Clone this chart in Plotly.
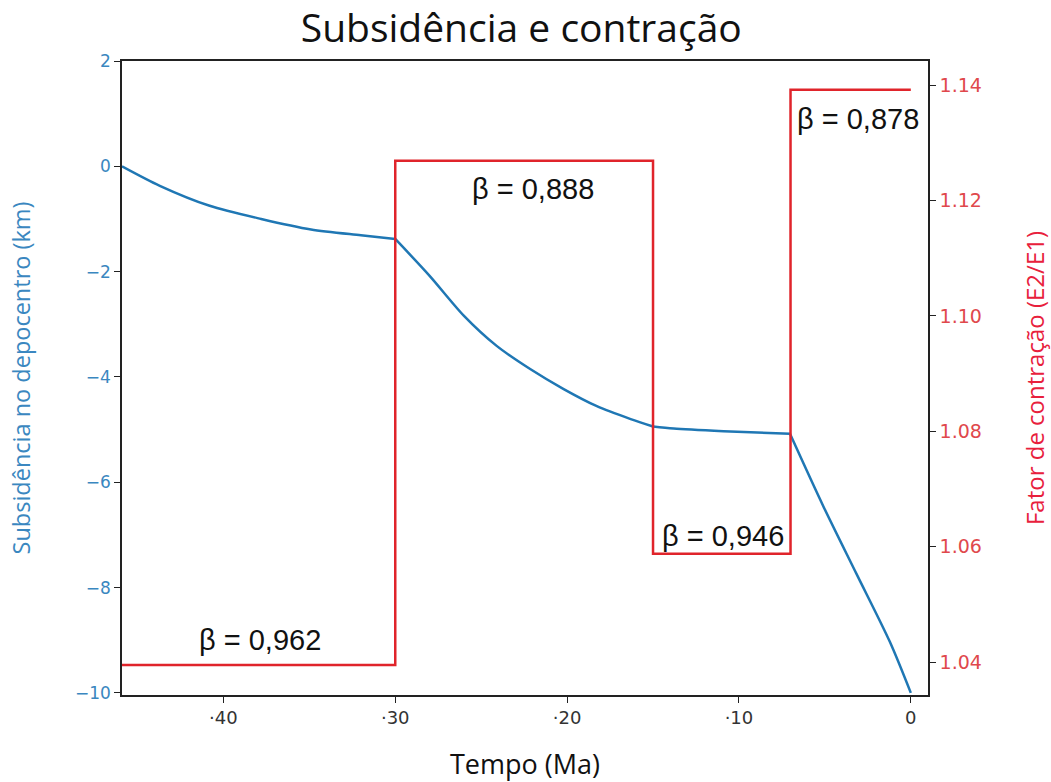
import plotly.graph_objects as go

# Blue subsidence curve (Tempo in Ma, subsidence in km), four phases
sub_t = [-45.9, -43.7, -40.8, -37.8, -34.9, -32.0, -30.0,
         -28.0, -26.0, -24.1, -22.15, -20.2, -18.3, -16.3, -15.0,
         -13.8, -10.9, -7.03,
         -5.1, -3.16, -1.22, 0.0]
sub_km = [0.0, -0.37, -0.75, -1.0, -1.2, -1.31, -1.38,
          -2.08, -2.84, -3.41, -3.85, -4.23, -4.55, -4.8, -4.94,
          -4.98, -5.03, -5.08,
          -6.45, -7.74, -9.03, -10.0]
phase_breaks = [0, 6, 14, 17, 21]  # indices where phases start/end

# Red step: contraction factor (E2/E1)
step_t = [-45.9, -30.0, -15.0, -7.0, 0.0]
step_f = [1.0395, 1.1269, 1.0588, 1.1392, 1.1392]

# Beta labels
beta_text = ["β = 0,962", "β = 0,888", "β = 0,946", "β = 0,878"]
beta_t = [-37.85, -22.0, -10.9, -3.06]
beta_km = [-8.99, -0.44, -7.02, 0.89]

x_ticks = [-40, -30, -20, -10, 0]
x_ticktext = ["·40", "·30", "·20", "·10", "0"]
y_ticks = [-10, -8, -6, -4, -2, 0, 2]
y_ticktext = ["−10", "−8", "−6", "−4", "−2", "0", "2"]
y2_ticks = [1.04, 1.06, 1.08, 1.10, 1.12, 1.14]
y2_ticktext = ["1.04", "1.06", "1.08", "1.10", "1.12", "1.14"]

BLUE = "#1f77b4"
RED = "#e0242b"
TICKFONT = "DejaVu Sans"

fig = go.Figure()
fig.add_trace(go.Scatter(x=step_t, y=step_f, mode="lines", yaxis="y2",
                         line=dict(color=RED, width=2.5, shape="hv"),
                         showlegend=False, hoverinfo="skip"))
for a, b in zip(phase_breaks[:-1], phase_breaks[1:]):
    fig.add_trace(go.Scatter(x=sub_t[a:b + 1], y=sub_km[a:b + 1], mode="lines", yaxis="y",
                             line=dict(color=BLUE, width=2.5, shape="spline", smoothing=0.8),
                             showlegend=False))

for t, xv, yv in zip(beta_text, beta_t, beta_km):
    fig.add_annotation(x=xv, y=yv, xref="x", yref="y", text=t, showarrow=False,
                       font=dict(family="Liberation Sans", size=29, color="#111111"))

fig.update_layout(
    width=1051, height=782,
    margin=dict(l=122, r=123, t=61, b=87, autoexpand=False),
    paper_bgcolor="white", plot_bgcolor="white",
    title=dict(text="Subsidência e contração", x=0.496, xanchor="center",
               y=0.964, yanchor="middle",
               font=dict(family="Open Sans", size=39, color="#111111")),
    xaxis=dict(range=[-45.9, 1.0], tickvals=x_ticks, ticktext=x_ticktext,
               automargin=False,
               showgrid=False, zeroline=False, showline=True, mirror=True,
               linecolor="#222222", linewidth=1.5, ticks="outside", ticklen=6,
               tickcolor="#222222", tickwidth=1.3,
               tickfont=dict(family=TICKFONT, size=18, color="#333333"),
               title=dict(text="Tempo (Ma)", standoff=29,
                          font=dict(family="Open Sans", size=27, color="#111111"))),
    yaxis=dict(range=[-10.04, 2.0], tickvals=y_ticks, ticktext=y_ticktext,
               automargin=False,
               showgrid=False, zeroline=False, showline=True,
               linecolor="#222222", linewidth=1.5, ticks="outside", ticklen=6,
               tickcolor="#222222", tickwidth=1.3,
               tickfont=dict(family=TICKFONT, size=17, color="#3a87c0"),
               title=dict(text="Subsidência no depocentro (km)", standoff=38,
                          font=dict(family="Open Sans", size=23.5, color="#3a87c0"))),
    yaxis2=dict(range=[1.0343, 1.1442], tickvals=y2_ticks, ticktext=y2_ticktext,
                overlaying="y", side="right", automargin=False,
                showgrid=False, zeroline=False, showline=True,
                linecolor="#222222", linewidth=1.5, ticks="outside", ticklen=6,
                tickcolor="#222222", tickwidth=1.3,
                tickfont=dict(family=TICKFONT, size=19, color="#e0484c"),
                title=dict(text="Fator de contração (E2/E1)", standoff=46,
                           font=dict(family="Open Sans", size=24, color="#e8203c"))),
)

fig.write_html("out.html")
